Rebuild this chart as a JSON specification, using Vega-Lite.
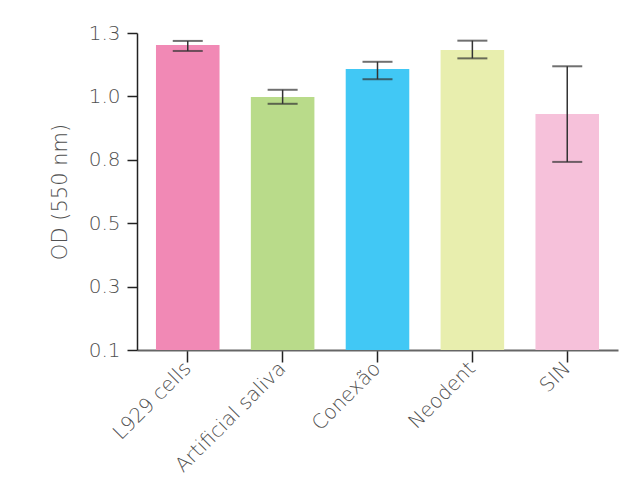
{
  "$schema": "https://vega.github.io/schema/vega-lite/v6.json",
  "width": 481,
  "height": 317,
  "autosize": {"type": "none"},
  "padding": {"left": 137, "top": 33, "right": 21, "bottom": 130},
  "background": "white",
  "config": {
    "view": {"stroke": null},
    "font": "DejaVu Sans",
    "axis": {"labelFont": "DejaVu Sans", "titleFont": "DejaVu Sans", "labelFontWeight": 200, "titleFontWeight": 200, "labelColor": "#505050", "titleColor": "#505050", "grid": false}
  },
  "data": {
    "values": [
      {"group": "L929 cells", "od": 1.255, "lo": 1.232, "hi": 1.270},
      {"group": "Artificial saliva", "od": 1.058, "lo": 1.032, "hi": 1.085},
      {"group": "Conexão", "od": 1.164, "lo": 1.125, "hi": 1.191},
      {"group": "Neodent", "od": 1.236, "lo": 1.204, "hi": 1.271},
      {"group": "SIN", "od": 0.993, "lo": 0.812, "hi": 1.174}
    ]
  },
  "encoding": {
    "x": {
      "field": "group",
      "type": "nominal",
      "sort": null,
      "title": null,
      "scale": {"paddingInner": 0.33, "paddingOuter": 0.2},
      "axis": {
        "labelAngle": -45,
        "labelAlign": "right",
        "labelBaseline": "middle",
        "labelFontSize": 20,
        "labelPadding": 3,
        "domainColor": "#666666",
        "domainWidth": 2,
        "tickColor": "#222222",
        "tickWidth": 1.5,
        "tickSize": 12
      }
    }
  },
  "layer": [
    {
      "mark": {"type": "bar"},
      "encoding": {
        "y": {
          "field": "od",
          "type": "quantitative",
          "title": "OD (550 nm)",
          "scale": {"domain": [0.1, 1.3], "zero": false, "nice": false},
          "axis": {
            "values": [0.1, 0.34, 0.58, 0.82, 1.06, 1.3],
            "labelExpr": "datum.value < 0.2 ? '0.1' : datum.value < 0.45 ? '0.3' : datum.value < 0.7 ? '0.5' : datum.value < 0.95 ? '0.8' : datum.value < 1.2 ? '1.0' : '1.3'",
            "labelFontSize": 20,
            "labelPadding": 7,
            "titleFontSize": 21,
            "titlePadding": 18,
            "domainColor": "#222222",
            "domainWidth": 1.5,
            "tickColor": "#222222",
            "tickWidth": 1.5,
            "tickSize": 10
          }
        },
        "y2": {"datum": 0.1},
        "color": {
          "field": "group",
          "type": "nominal",
          "sort": null,
          "legend": null,
          "scale": {
            "domain": ["L929 cells", "Artificial saliva", "Conexão", "Neodent", "SIN"],
            "range": ["#F189B5", "#B9DB8A", "#41C8F5", "#E8EEAE", "#F6C1DA"]
          }
        }
      }
    },
    {
      "mark": {"type": "rule", "color": "#333333", "strokeWidth": 1.5},
      "encoding": {
        "y": {"field": "lo", "type": "quantitative"},
        "y2": {"field": "hi"}
      }
    },
    {
      "mark": {"type": "tick", "color": "#333333", "thickness": 2, "size": 30},
      "encoding": {"y": {"field": "lo", "type": "quantitative"}}
    },
    {
      "mark": {"type": "tick", "color": "#333333", "thickness": 2, "size": 30},
      "encoding": {"y": {"field": "hi", "type": "quantitative"}}
    }
  ]
}
